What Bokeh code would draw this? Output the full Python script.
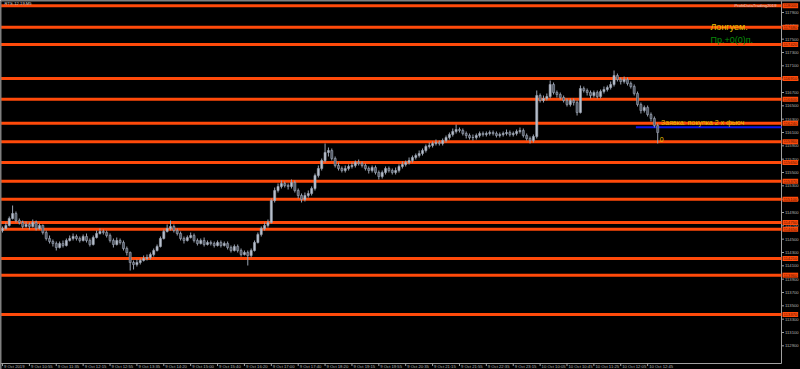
from bokeh.plotting import figure
from bokeh.models import Range1d, Label, Span, ColumnDataSource
from bokeh.core.properties import value
from bokeh.embed import file_html
from bokeh.resources import INLINE

chart_title = "RTS-12.19,M5"
corner_text = "ProfitDataTrading2019"
order_text = "Заявка: покупка 2 х фьюч"
order_count = "0"
signal_text = "Лонгуем."
profit_text = "Пр.+0(0)п."

time_labels = ["9 Oct 2019", "9 Oct 10:55", "9 Oct 11:35", "9 Oct 12:15", "9 Oct 12:55",
               "9 Oct 13:35", "9 Oct 14:20", "9 Oct 15:00", "9 Oct 15:40", "9 Oct 16:20",
               "9 Oct 17:00", "9 Oct 17:40", "9 Oct 18:20", "9 Oct 19:15", "9 Oct 19:55",
               "9 Oct 20:35", "9 Oct 21:15", "9 Oct 21:55", "9 Oct 22:35", "9 Oct 23:15",
               "10 Oct 10:05", "10 Oct 10:45", "10 Oct 11:25", "10 Oct 12:05", "10 Oct 12:45"]
time_tick_bars = [0, 8, 16, 24, 32, 40, 48, 56, 64, 72, 80, 88, 96, 104, 112, 120,
                  128, 136, 144, 152, 160, 168, 176, 184, 192]

price_ticks = [112900, 113100, 113300, 113500, 113700, 113900, 114100, 114300, 114500,
               114700, 114900, 115100, 115300, 115500, 115700, 115900, 116100, 116300,
               116500, 116700, 116900, 117100, 117300, 117500, 117700, 117900]

opens = [114630, 114660, 114705, 114810, 114885, 114780, 114750, 114690, 114720, 114690,
         114750, 114660, 114705, 114600, 114510, 114465, 114435, 114375, 114435, 114405,
         114480, 114510, 114540, 114510, 114480, 114540, 114480, 114420, 114525, 114585,
         114615, 114600, 114555, 114480, 114420, 114480, 114450, 114360, 114300, 114150,
         114120, 114150, 114180, 114210, 114225, 114270, 114330, 114390, 114510, 114615,
         114660, 114690, 114630, 114585, 114510, 114480, 114525, 114555, 114480, 114435,
         114480, 114420, 114450, 114435, 114405, 114450, 114405, 114435, 114375, 114330,
         114390, 114330, 114270, 114300, 114255, 114330, 114450, 114570, 114660, 114705,
         114750, 115080, 115230, 115290, 115335, 115305, 115290, 115350, 115230, 115155,
         115095, 115155, 115185, 115260, 115455, 115560, 115680, 115800, 115830, 115710,
         115605, 115560, 115530, 115560, 115590, 115605, 115650, 115635, 115605, 115560,
         115530, 115575, 115500, 115440, 115500, 115560, 115530, 115500, 115530, 115590,
         115620, 115650, 115680, 115725, 115755, 115785, 115830, 115890, 115905, 115935,
         115950, 115935, 115980, 116025, 116070, 116115, 116145, 116130, 116085, 116055,
         116025, 116025, 116055, 116085, 116070, 116085, 116100, 116085, 116055, 116070,
         116085, 116100, 116070, 116085, 116115, 116130, 116055, 116010, 115980, 116040,
         116655, 116580, 116610, 116640, 116820, 116700, 116670, 116625, 116580, 116520,
         116580, 116550, 116400, 116760, 116730, 116700, 116655, 116700, 116640, 116715,
         116745, 116775, 116820, 116955, 116895, 116865, 116895, 116835, 116790, 116685,
         116520, 116430, 116475, 116370, 116310, 116205]

closes = [114660, 114705, 114810, 114885, 114780, 114750, 114690, 114720, 114690, 114750,
          114660, 114705, 114600, 114510, 114465, 114435, 114375, 114435, 114405, 114480,
          114510, 114540, 114510, 114480, 114540, 114480, 114420, 114525, 114585, 114615,
          114600, 114555, 114480, 114420, 114480, 114450, 114360, 114300, 114150, 114120,
          114150, 114180, 114210, 114225, 114270, 114330, 114390, 114510, 114615, 114660,
          114690, 114630, 114585, 114510, 114480, 114525, 114555, 114480, 114435, 114480,
          114420, 114450, 114435, 114405, 114450, 114405, 114435, 114375, 114330, 114390,
          114330, 114270, 114300, 114255, 114330, 114450, 114570, 114660, 114705, 114750,
          115080, 115230, 115290, 115335, 115305, 115290, 115350, 115230, 115155, 115095,
          115155, 115185, 115260, 115455, 115560, 115680, 115800, 115830, 115710, 115605,
          115560, 115530, 115560, 115590, 115605, 115650, 115635, 115605, 115560, 115530,
          115575, 115500, 115440, 115500, 115560, 115530, 115500, 115530, 115590, 115620,
          115650, 115680, 115725, 115755, 115785, 115830, 115890, 115905, 115935, 115950,
          115935, 115980, 116025, 116070, 116115, 116145, 116130, 116085, 116055, 116025,
          116025, 116055, 116085, 116070, 116085, 116100, 116085, 116055, 116070, 116085,
          116100, 116070, 116085, 116115, 116130, 116055, 116010, 115980, 116040, 116655,
          116580, 116610, 116640, 116820, 116700, 116670, 116625, 116580, 116520, 116580,
          116550, 116400, 116760, 116730, 116700, 116655, 116700, 116640, 116715, 116745,
          116775, 116820, 116955, 116895, 116865, 116895, 116835, 116790, 116685, 116520,
          116430, 116475, 116370, 116310, 116205, 116100]

highs = [114690, 114750, 114840, 115005, 114915, 114810, 114780, 114765, 114750, 114795,
         114780, 114735, 114720, 114630, 114555, 114495, 114465, 114465, 114480, 114510,
         114555, 114585, 114570, 114540, 114570, 114585, 114510, 114555, 114630, 114660,
         114645, 114630, 114585, 114510, 114525, 114510, 114480, 114390, 114315, 114180,
         114195, 114210, 114255, 114270, 114300, 114360, 114420, 114540, 114645, 114720,
         114780, 114720, 114660, 114615, 114540, 114555, 114600, 114585, 114510, 114510,
         114525, 114480, 114480, 114465, 114480, 114480, 114465, 114465, 114405, 114420,
         114420, 114360, 114330, 114330, 114360, 114480, 114600, 114690, 114750, 114795,
         115110, 115275, 115335, 115380, 115365, 115335, 115395, 115380, 115260, 115185,
         115200, 115230, 115290, 115485, 115605, 115710, 115935, 115875, 115860, 115740,
         115650, 115590, 115605, 115620, 115650, 115680, 115695, 115665, 115635, 115590,
         115605, 115605, 115530, 115530, 115590, 115590, 115560, 115575, 115620, 115665,
         115680, 115725, 115755, 115785, 115830, 115860, 115920, 115950, 115965, 115995,
         115980, 116010, 116055, 116100, 116160, 116220, 116175, 116160, 116115, 116085,
         116070, 116085, 116115, 116115, 116115, 116130, 116130, 116115, 116100, 116115,
         116145, 116130, 116115, 116145, 116175, 116160, 116085, 116040, 116070, 116730,
         116685, 116655, 116685, 116880, 116850, 116730, 116700, 116655, 116610, 116610,
         116610, 116580, 116805, 116790, 116760, 116730, 116730, 116730, 116745, 116790,
         116805, 116865, 117030, 116985, 116925, 116940, 116925, 116865, 116820, 116715,
         116550, 116505, 116505, 116400, 116340, 116235]

lows = [114600, 114645, 114690, 114795, 114750, 114720, 114660, 114675, 114645, 114675,
        114630, 114645, 114570, 114480, 114435, 114390, 114330, 114360, 114375, 114390,
        114465, 114480, 114480, 114450, 114465, 114450, 114390, 114405, 114510, 114570,
        114570, 114525, 114450, 114375, 114405, 114420, 114330, 114255, 114030, 114045,
        114090, 114120, 114165, 114180, 114195, 114240, 114315, 114375, 114495, 114600,
        114630, 114600, 114555, 114480, 114435, 114465, 114510, 114450, 114405, 114420,
        114390, 114405, 114405, 114375, 114390, 114375, 114390, 114345, 114300, 114315,
        114300, 114240, 114255, 114105, 114225, 114315, 114435, 114540, 114630, 114675,
        114735, 115050, 115200, 115260, 115275, 115245, 115260, 115200, 115110, 115050,
        115065, 115125, 115155, 115230, 115425, 115530, 115650, 115740, 115680, 115575,
        115530, 115500, 115500, 115530, 115560, 115575, 115605, 115575, 115530, 115485,
        115500, 115470, 115395, 115410, 115470, 115500, 115470, 115470, 115500, 115560,
        115590, 115620, 115650, 115695, 115725, 115755, 115800, 115860, 115875, 115905,
        115905, 115905, 115950, 115995, 116040, 116085, 116100, 116055, 116010, 115995,
        115980, 115995, 116025, 116040, 116040, 116055, 116055, 116025, 116025, 116040,
        116055, 116040, 116040, 116055, 116085, 116025, 115980, 115935, 115950, 116010,
        116550, 116550, 116580, 116610, 116670, 116625, 116595, 116550, 116490, 116490,
        116505, 116355, 116385, 116700, 116655, 116610, 116625, 116610, 116610, 116685,
        116715, 116745, 116790, 116865, 116820, 116835, 116805, 116760, 116655, 116490,
        116385, 116400, 116340, 116265, 116175, 115935]

levels = [118000, 117680, 117420, 116910, 116600, 116240, 115960, 115650, 115370,
          115100, 114750, 114650, 114210, 113960, 113370]
order_level = 116180
order_start_bar = 188.5

BG = "#000000"
FG = "#b4b4b4"
AXIS = "#a0a0a0"
ORANGE = "#ff4a0a"
UP_FILL = "#b9c1cd"
DN_FILL = "#555c68"
WICK = "#9aa3b2"
FONT = value("Liberation Sans")
SMALL = "4.2px"

# pixel geometry of the MT4 window: 3.36 px per bar, 15 points per px
PX_BAR = 3.36
PT_PX = 15.0
x_start = -0.6
x_end = x_start + 800 / PX_BAR
y_top = 118080
y_bot = y_top - 369 * PT_PX
axis_x = x_start + 781 / PX_BAR          # price scale line
axis_y = y_top - 363 * PT_PX             # time scale line

p = figure(width=800, height=369, output_backend="svg", toolbar_location=None,
           x_range=Range1d(x_start, x_end), y_range=Range1d(y_bot, y_top),
           x_axis_location=None, y_axis_location=None,
           background_fill_color=BG, border_fill_color=BG,
           min_border=0, outline_line_color=None)
p.grid.visible = False

# frame lines (left, top, price scale, time scale)
p.add_layout(Span(location=x_start + 0.5 / PX_BAR, dimension="height", line_color="#808080", line_width=1))
p.add_layout(Span(location=y_top - 0.5 * PT_PX, dimension="width", line_color="#808080", line_width=1))
p.segment(x0=[axis_x], y0=[y_top], x1=[axis_x], y1=[axis_y], line_color=AXIS, line_width=1)
p.segment(x0=[x_start], y0=[axis_y], x1=[axis_x], y1=[axis_y], line_color=AXIS, line_width=1)

# price scale ticks and labels
p.segment(x0=[axis_x] * len(price_ticks), y0=price_ticks,
          x1=[axis_x + 2.5 / PX_BAR] * len(price_ticks), y1=price_ticks,
          line_color=AXIS, line_width=1)
p.text(x=[axis_x + 3.5 / PX_BAR] * len(price_ticks), y=price_ticks,
       text=[str(t) for t in price_ticks], text_font=FONT,
       text_font_size=SMALL, text_color=FG, text_baseline="middle")

# time scale ticks and labels
p.segment(x0=time_tick_bars, y0=[axis_y] * len(time_tick_bars),
          x1=time_tick_bars, y1=[axis_y - 2.5 * PT_PX] * len(time_tick_bars),
          line_color=AXIS, line_width=1)
p.text(x=[b + 1.5 / PX_BAR for b in time_tick_bars], y=[axis_y - 0.8 * PT_PX] * len(time_tick_bars),
       text=time_labels, text_font=FONT,
       text_font_size=SMALL, text_color=FG, text_baseline="top")

# level lines
p.segment(x0=[x_start] * len(levels), y0=levels, x1=[axis_x] * len(levels), y1=levels,
          line_color=ORANGE, line_width=3)
p.segment(x0=[order_start_bar], y0=[order_level], x1=[axis_x], y1=[order_level],
          line_color="#0a14e6", line_width=2)

# candles
n = len(closes)
src = ColumnDataSource(dict(
    x=list(range(n)), high=highs, low=lows,
    top=[max(o, c) for o, c in zip(opens, closes)],
    bottom=[min(o, c) for o, c in zip(opens, closes)],
    fill=[UP_FILL if c >= o else DN_FILL for o, c in zip(opens, closes)],
))
p.segment(x0="x", y0="high", x1="x", y1="low", source=src, line_color=WICK, line_width=1)
p.vbar(x="x", width=0.62, top="top", bottom="bottom", source=src,
       fill_color="fill", line_color=WICK, line_width=0.6)

# texts
p.text(x=[196.0], y=[116250], text=[order_text], text_font=FONT,
       text_font_size="7px", text_color="#e8c400", text_baseline="middle")
p.text(x=[195.6], y=[115995], text=[order_count], text_font=FONT,
       text_font_size="7px", text_color="#e8c400", text_baseline="middle")
p.text(x=[210.7], y=[117680], text=[signal_text], text_font=FONT,
       text_font_size="9px", text_color="#e8c400", text_baseline="middle")
p.text(x=[210.7], y=[117490], text=[profit_text], text_font=FONT,
       text_font_size="9px", text_color="#0a8a0a", text_baseline="middle")
p.text(x=[0.6], y=[118040], text=[chart_title], text_font=FONT,
       text_font_size=SMALL, text_color="#d0d0d0", text_baseline="middle")
p.text(x=[axis_x - 1.5], y=[118010], text=[corner_text], text_font=FONT,
       text_font_size=SMALL, text_color="#d0d0d0", text_baseline="middle", text_align="right")

# price labels of the levels on the price scale
for lv in levels:
    p.add_layout(Label(x=axis_x, y=lv, x_offset=1, text=str(lv),
                       text_font="Liberation Sans", text_font_size=SMALL,
                       text_color="#5a1400", text_baseline="middle",
                       background_fill_color=ORANGE, padding=1))

open("out.html", "w").write(file_html(p, INLINE))
